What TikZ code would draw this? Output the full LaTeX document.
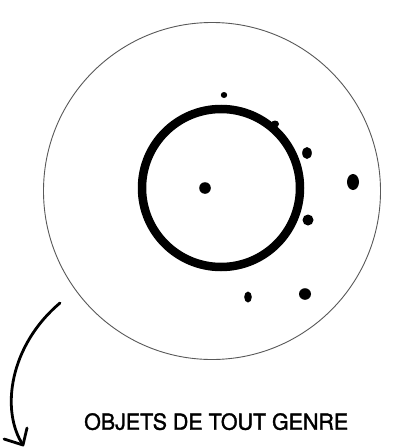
\documentclass[tikz,border=0pt]{standalone}
\usepackage{fontspec}
\setmainfont{TeX Gyre Heros}
\newfontfamily\labelfont[FakeBold=1.5]{TeX Gyre Heros}
\begin{document}
\begin{tikzpicture}[x=1pt,y=-1pt,
  dot/.style={fill=black,draw=none},
  outer/.style={draw=black!65,line width=0.9pt},
  ring/.style={draw=black,line width=8.5pt},
  arrowline/.style={draw=black,line width=2.8pt,line cap=round,line join=round}]
\useasboundingbox (0,0) rectangle (395,447);
\fill[white] (0,0) rectangle (395,447);
% outer circle
\node[outer,circle,minimum size=337pt,inner sep=0pt] (outerc) at (212,191) {};
% thick ring
\node[ring,circle,minimum size=158pt,inner sep=0pt] (ringc) at (221,188) {};
% dots
\fill[dot] (224,95) ellipse (3.2 and 3);
\fill[dot] (275,124) ellipse (4 and 3.5);
\fill[dot] (307,153) ellipse (4.8 and 6);
\fill[dot] (205,188) ellipse (5.8 and 5.8);
\fill[dot] (353,182) ellipse (6 and 8);
\fill[dot] (308,220) ellipse (5.5 and 5.5);
\fill[dot] (248,297) ellipse (3.8 and 5.5);
\fill[dot] (305,294) ellipse (6 and 5.8);
% arrow
\coordinate (astart) at (60,303);
\coordinate (atip) at (23,445);
\draw[arrowline] (astart) .. controls (10,345) and (0,410) .. (atip);
\draw[arrowline] (4,439) -- (atip) -- (27,428);
% label
\node[inner sep=0pt,anchor=north west] (label) at (84,413) {\resizebox{264pt}{16.5pt}{\labelfont OBJETS DE TOUT GENRE}};
\end{tikzpicture}
\end{document}
